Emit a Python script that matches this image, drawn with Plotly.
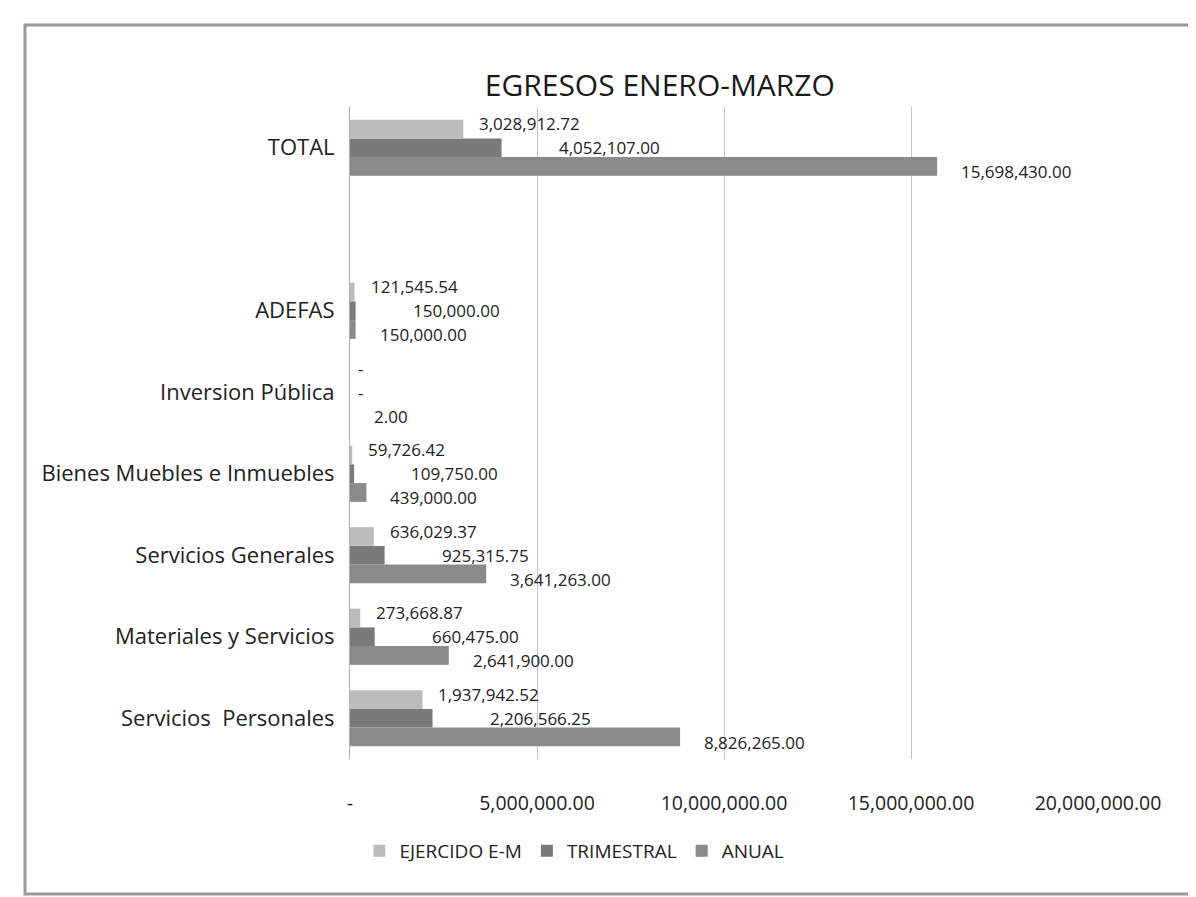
import plotly.graph_objects as go

categories = ["Servicios  Personales", "Materiales y Servicios", "Servicios Generales",
              "Bienes Muebles e Inmuebles", "Inversion Pública", "ADEFAS", " ", "TOTAL"]
ejercido = [1937942.52, 273668.87, 636029.37, 59726.42, 0, 121545.54, None, 3028912.72]
trimestral = [2206566.25, 660475.00, 925315.75, 109750.00, 0, 150000.00, None, 4052107.00]
anual = [8826265.00, 2641900.00, 3641263.00, 439000.00, 2.00, 150000.00, None, 15698430.00]
x_ticks = [0, 5000000, 10000000, 15000000, 20000000]
x_tick_labels = ["-", "5,000,000.00", "10,000,000.00", "15,000,000.00", "20,000,000.00"]


def fmt(v):
    if v is None:
        return ""
    if v == 0:
        return "-"
    return f"{v:,.2f}"


FONT = "Open Sans"
LABEL_DY = 24
# (name, values, colour, label x-shift px, label y-shift px)
series = [
    ("ANUAL", anual, "#8a8a8a", 22, -LABEL_DY),
    ("TRIMESTRAL", trimestral, "#7a7a7a", 55, 0),
    ("EJERCIDO E-M", ejercido, "#bcbcbc", 14, LABEL_DY),
]

fig = go.Figure()
annotations = []
for name, vals, color, dx, dy in series:
    fig.add_trace(go.Bar(
        y=categories, x=vals, name=name, orientation="h",
        marker=dict(color=color, line=dict(width=0)),
    ))
    for cat, v in zip(categories, vals):
        if v is None:
            continue
        annotations.append(dict(
            x=v, y=cat, xref="x", yref="y", text=fmt(v), showarrow=False,
            xanchor="left", yanchor="middle",
            xshift=dx if v >= 1 else 6, yshift=dy,
            font=dict(family=FONT, size=17, color="#222222"),
        ))

fig.update_layout(
    width=1196, height=897,
    paper_bgcolor="white", plot_bgcolor="white",
    barmode="group", bargap=0.31, bargroupgap=0.0,
    margin=dict(l=342, r=106, t=99, b=146),
    title=dict(text="EGRESOS ENERO-MARZO", x=0.545, xanchor="center",
               y=0.914, yanchor="middle", yref="container",
               font=dict(family=FONT, size=30, color="#1a1a1a")),
    font=dict(family=FONT, color="#222222"),
    xaxis=dict(range=[0, 20000000], tickvals=x_ticks, ticktext=x_tick_labels,
               showgrid=True, gridcolor="#c4c4c4", gridwidth=1,
               zeroline=False, showline=False, ticks="",
               ticklabelstandoff=30,
               tickfont=dict(family=FONT, size=19.5, color="#222222")),
    yaxis=dict(categoryorder="array", categoryarray=categories,
               showline=True, linecolor="#b0b0b0", linewidth=1,
               ticks="", ticklabelstandoff=10,
               tickfont=dict(family=FONT, size=22, color="#222222")),
    legend=dict(orientation="h", x=0.30, xanchor="center", y=-0.112, yanchor="top",
                traceorder="reversed", itemwidth=30,
                font=dict(family=FONT, size=19, color="#222222")),
    annotations=annotations,
    shapes=[dict(type="rect", xref="paper", yref="paper",
                 x0=-325/748, x1=1+100/748, y0=-135/652, y1=1+82/652,
                 line=dict(color="#9a9a9a", width=3))],
)

fig.write_html("out.html")
